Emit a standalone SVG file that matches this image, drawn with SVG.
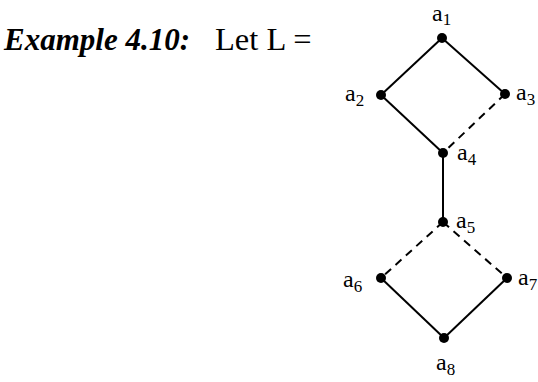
<svg xmlns="http://www.w3.org/2000/svg" width="538" height="382" viewBox="0 0 538 382">
<style>
.t{font-family:"Liberation Serif","Times New Roman",serif;fill:#000}
.lbl{font-size:24px}
.sub{font-size:17px}
.e{stroke:#000;stroke-width:2;fill:none}
.d{stroke-dasharray:8 6}
.dot{fill:#000}
</style>
<rect width="538" height="382" fill="#fff"/>
<g id="title">
<text class="t" x="4" y="50" font-size="31" font-weight="bold" font-style="italic">Example 4.10:</text>
<text class="t" x="215" y="50" font-size="32.5">Let L =</text>
</g>
<g id="edges">
<line class="e" x1="442" y1="38" x2="381" y2="95"/>
<line class="e" x1="442" y1="38" x2="505" y2="94"/>
<line class="e" x1="381" y1="95" x2="443" y2="153"/>
<line class="e d" x1="505" y1="94" x2="443" y2="153"/>
<line class="e" x1="443" y1="153" x2="443" y2="222"/>
<line class="e d" x1="443" y1="222" x2="381" y2="278"/>
<line class="e d" x1="443" y1="222" x2="507" y2="278"/>
<line class="e" x1="381" y1="278" x2="444" y2="338"/>
<line class="e" x1="507" y1="278" x2="444" y2="338"/>
</g>
<g id="a1"><circle class="dot" cx="442" cy="38" r="5"/><text class="t lbl" x="432" y="21">a<tspan class="sub" dy="4">1</tspan></text></g>
<g id="a2"><circle class="dot" cx="381" cy="95" r="5"/><text class="t lbl" x="345" y="101">a<tspan class="sub" dy="5">2</tspan></text></g>
<g id="a3"><circle class="dot" cx="505" cy="94" r="5"/><text class="t lbl" x="516" y="100">a<tspan class="sub" dy="5">3</tspan></text></g>
<g id="a4"><circle class="dot" cx="443" cy="153" r="5"/><text class="t lbl" x="457" y="160">a<tspan class="sub" dy="5">4</tspan></text></g>
<g id="a5"><circle class="dot" cx="443" cy="222" r="5"/><text class="t lbl" x="456" y="228">a<tspan class="sub" dy="5">5</tspan></text></g>
<g id="a6"><circle class="dot" cx="381" cy="278" r="5"/><text class="t lbl" x="343" y="287">a<tspan class="sub" dy="5">6</tspan></text></g>
<g id="a7"><circle class="dot" cx="507" cy="278" r="5"/><text class="t lbl" x="518" y="285">a<tspan class="sub" dy="5">7</tspan></text></g>
<g id="a8"><circle class="dot" cx="444" cy="338" r="5"/><text class="t lbl" x="436" y="370">a<tspan class="sub" dy="5">8</tspan></text></g>
</svg>
